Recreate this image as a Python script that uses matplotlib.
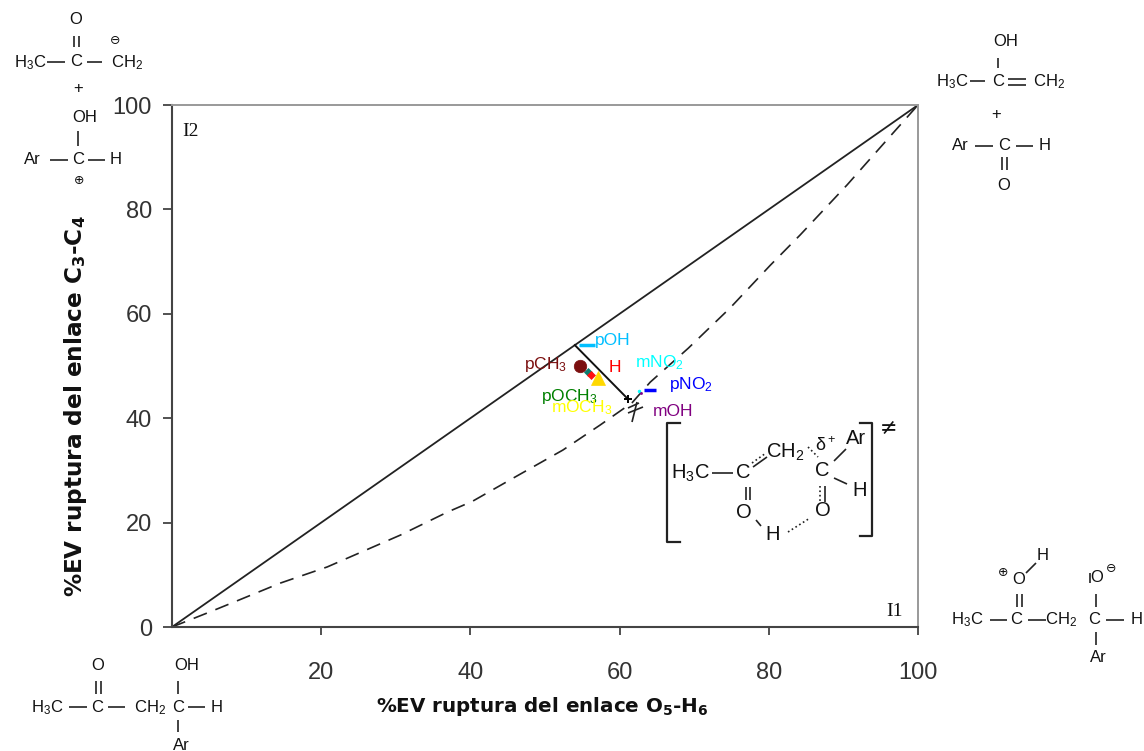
import matplotlib
matplotlib.use('Agg')
import matplotlib.pyplot as plt

plt.rcParams['font.family'] = ['Liberation Sans', 'DejaVu Sans']
plt.rcParams['mathtext.fontset'] = 'custom'
plt.rcParams['mathtext.rm'] = 'Liberation Sans'
plt.rcParams['mathtext.bf'] = 'DejaVu Sans:bold'
plt.rcParams['mathtext.default'] = 'regular'

# More O'Ferrall-Jencks diagram values
diag_x = [0, 54, 100]
diag_y = [0, 54, 100]
curve_x = [0, 5.1, 8.7, 14.5, 20.8, 26.9, 30.6, 36.9, 40.3, 46.2, 52.4, 57.4, 61.7,
           64.1, 69.2, 74.8, 80.2, 84.2, 90.5, 96.2, 100]
curve_y = [0, 2.9, 5.0, 8.4, 11.5, 15.3, 17.6, 22.0, 24.1, 28.9, 33.9, 38.7, 43.0,
           46.9, 53.4, 61.1, 69.3, 75.1, 84.7, 93.9, 100]
path_x = [54, 61.1]
path_y = [54, 43.7]

subst_names = ['pOH', 'pCH$_3$', 'pOCH$_3$', 'H', 'mOCH$_3$', 'mNO$_2$', 'pNO$_2$', 'mOH']
subst_x = [55.6, 54.7, 55.8, 56.2, 57.1, 62.6, 64.1, 62.9]
subst_y = [54.0, 50.0, 48.9, 48.3, 47.7, 45.2, 45.4, 44.8]
subst_colors = ['#00bfff', '#7b0f0f', '#0b7d70', '#ff1010', '#ffd800', '#00ffff', '#0000ff', '#800090']
subst_markers = ['_', 'o', 'D', 'D', '^', '.', '_', '.']
subst_sizes = [12, 9, 4, 4, 10, 4, 9, 3]
label_px = [(613, 341), (546, 364), (569, 396), (615, 368), (582, 408), (659, 363), (691, 384), (673, 412)]
label_colors = ['#00bfff', '#7b0f0f', '#008000', '#ff0000', '#ffff00', '#00ffff', '#0000ff', '#800080']

fig = plt.figure(figsize=(11.44, 7.51), dpi=100)
ax = fig.add_axes([172 / 1144, (751 - 627) / 751, 746 / 1144, 522 / 751])
ax.set_xlim(0, 100)
ax.set_ylim(0, 100)
ax.set_xticks([20, 40, 60, 80, 100])
ax.set_yticks([0, 20, 40, 60, 80, 100])
ax.tick_params(axis='x', length=6, width=1.2, color='#333333', pad=19, labelsize=17, labelcolor='#333333')
ax.tick_params(axis='y', length=6.5, width=1.2, color='#333333', pad=8, labelsize=17, labelcolor='#333333')
for side in ['top', 'right']:
    ax.spines[side].set_color('#999999')
    ax.spines[side].set_linewidth(1.4)
for side in ['left', 'bottom']:
    ax.spines[side].set_color('#444444')
    ax.spines[side].set_linewidth(1.5)

ax.plot(diag_x, diag_y, color='#222222', lw=1.3)
ax.plot(curve_x, curve_y, color='#222222', lw=1.2, dashes=(8.5, 5.5))
ax.plot(path_x, path_y, color='#111111', lw=1.4)
ax.plot(path_x[1], path_y[1], '+', color='black', ms=6, mew=1.4)
for x, y, c, m, s in zip(subst_x, subst_y, subst_colors, subst_markers, subst_sizes):
    ax.plot(x, y, m, color=c, ms=s, mew=2.5 if m == '_' else 0.5, clip_on=False)

# overlay in reference pixels for the labels and the structures
ov = fig.add_axes([0, 0, 1, 1], facecolor='none')
ov.set_xlim(0, 1144)
ov.set_ylim(751, 0)
ov.axis('off')


def txt(s, x, y, size=12, color='#111111', **kw):
    ov.text(x, y, s, fontsize=size, color=color, ha='center', va='center', **kw)


def bond(x0, y0, x1, y1, lw=1.2, ls='-'):
    ov.plot([x0, x1], [y0, y1], color='#222222', lw=lw, ls=ls, solid_capstyle='butt')


def hbond(y, *spans):
    for a, b in spans:
        bond(a, y, b, y)


def double_v(x0, x1, y0, y1):
    bond(x0, y0, x0, y1)
    bond(x1, y0, x1, y1)


for s, (x, y), c in zip(subst_names, label_px, label_colors):
    txt(s, x, y, size=12.5, color=c)

txt('I2', 191, 131, size=14, family='Liberation Serif')
txt('I1', 895, 611, size=14, family='Liberation Serif')

txt('%EV ruptura del enlace O$_{5}$-H$_{6}$', 542, 706, size=14.3, fontweight='bold', family='DejaVu Sans')
txt('%EV ruptura del enlace C$_{3}$-C$_{4}$', 76, 406, size=16.7, fontweight='bold', rotation=90, family='DejaVu Sans')

# top left reactants
txt('O', 76, 20)
double_v(74, 79, 36, 47)
txt('H$_3$C', 30, 63)
txt('C', 76, 61)
txt('CH$_2$', 127, 63)
hbond(62, (47, 65), (87, 102))
txt('\u2296', 115, 41, size=9, family='DejaVu Sans')
txt('+', 78, 88)
txt('OH', 85, 118)
bond(78, 131, 78, 146)
txt('Ar', 32, 159)
txt('C', 78, 160)
txt('H', 116, 159)
hbond(160, (50, 68), (88, 105))
txt('\u2295', 79, 180, size=9, family='DejaVu Sans')

# top right products
txt('OH', 1006, 41)
bond(998, 58, 998, 68)
txt('H$_3$C', 952, 82)
txt('C', 998, 81)
txt('CH$_2$', 1049, 82)
hbond(81, (970, 985))
hbond(79, (1008, 1026))
hbond(85, (1008, 1026))
txt('+', 996, 114)
txt('Ar', 960, 146)
txt('C', 1004, 146)
txt('H', 1045, 146)
hbond(146, (975, 993), (1016, 1033))
double_v(1002, 1007, 157, 170)
txt('O', 1004, 185)

# bottom right intermediate I1
txt('H', 1043, 556)
bond(1026, 573, 1036, 563)
txt('\u2295', 1003, 572, size=9, family='DejaVu Sans')
txt('O', 1019, 580)
double_v(1017, 1022, 594, 607)
txt('H$_3$C', 967, 620)
txt('C', 1016, 619)
txt('CH$_2$', 1061, 620)
txt('C', 1094, 620)
txt('H', 1137, 619)
hbond(620, (990, 1007), (1028, 1046), (1106, 1124))
txt('O', 1097, 578)
bond(1090, 573, 1090, 583)
txt('\u2296', 1111, 569, size=9, family='DejaVu Sans')
bond(1096, 594, 1096, 607)
bond(1096, 632, 1096, 645)
txt('Ar', 1098, 658)

# bottom left aldol
txt('O', 98, 666)
double_v(96, 101, 681, 694)
txt('H$_3$C', 47, 708)
txt('C', 97, 707)
txt('CH$_2$', 150, 708)
txt('C', 178, 707)
txt('H', 217, 707)
txt('OH', 187, 666)
bond(178, 681, 178, 694)
bond(178, 720, 178, 732)
txt('Ar', 181, 745)
hbond(707, (69, 87), (108, 125), (188, 205))

# transition state in brackets
ov.plot([680, 667, 667, 680], [423, 423, 542, 542], color='#222222', lw=1.6)
ov.plot([860, 872, 872, 860], [423, 423, 536, 536], color='#222222', lw=1.6)
txt('\u2260', 889, 428, size=15, family='DejaVu Sans')
txt('H$_3$C', 690, 473, size=14.5)
txt('C', 743, 472, size=14.5)
bond(712, 473, 733, 473)
txt('CH$_2$', 785, 452, size=14.5)
bond(752, 463, 766, 453, ls=':')
bond(753, 467, 767, 457)
bond(808, 447, 818, 457, ls=':')
txt('C', 822, 470, size=14.5)
txt('\u03b4$^+$', 826, 446, size=13)
txt('Ar', 856, 438, size=14.5)
bond(834, 461, 846, 449)
txt('H', 860, 491, size=14.5)
bond(834, 478, 847, 484)
double_v(746, 750, 487, 500)
txt('O', 744, 513, size=14.5)
bond(756, 520, 761, 526)
txt('H', 773, 534, size=14.5)
bond(788, 532, 810, 518, ls=':')
bond(820, 486, 820, 502, ls=':')
bond(825, 486, 825, 502)
txt('O', 823, 511, size=14.5)

# hash marks at the second intermediate
bond(637, 402, 632, 422)
bond(628, 413, 643, 407)
bond(628, 408, 639, 403)

fig.savefig('out.png', dpi=100)
